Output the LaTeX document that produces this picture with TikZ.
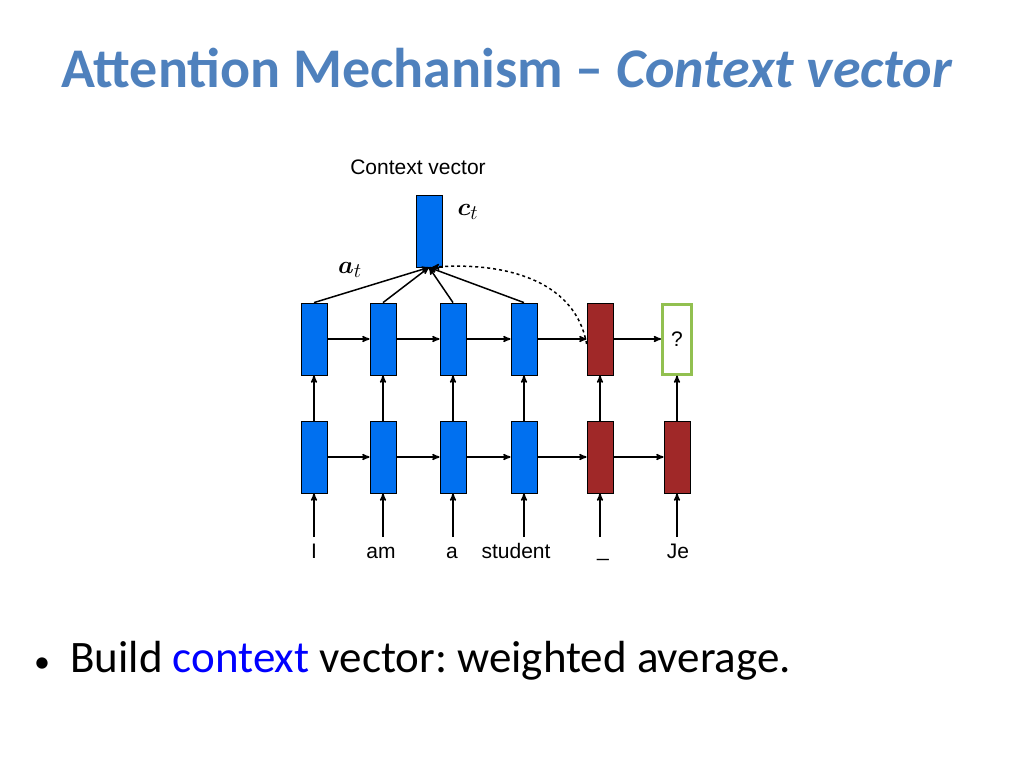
\documentclass[tikz,border=0pt]{standalone}
\usepackage{fontspec}
\usepackage{amsmath}
\usepackage{bm}
\setmainfont{Carlito}
\newfontfamily\helv{Liberation Sans}
\usetikzlibrary{arrows,positioning}
\definecolor{titleblue}{RGB}{79,129,189}
\definecolor{cellblue}{RGB}{0,112,240}
\definecolor{cellred}{RGB}{160,40,40}
\definecolor{qgreen}{RGB}{146,192,80}
\frenchspacing
\begin{document}
\begin{tikzpicture}[x=1pt,y=-1pt,->,>=stealth',line width=1.5pt]
  \tikzstyle{cell}=[draw=black,line width=0.8pt,fill=cellblue,minimum width=26pt,minimum height=72pt,inner sep=0pt]
  \tikzstyle{dec}=[cell,fill=cellred]
  \tikzstyle{word}=[font=\helv\fontsize{21}{24}\selectfont,anchor=base]
  \useasboundingbox (0,0) rectangle (1024,768);

  \node[text=titleblue,font=\bfseries\fontsize{56}{64}\selectfont] (title) at (507,68)
       {Attention Mechanism -- \textit{Context vector}};

  % encoder / decoder cells
  \node[cell] (h1) at (314,339) {};
  \node[cell] (h2) at (383,339) {};
  \node[cell] (h3) at (453,339) {};
  \node[cell] (h4) at (524,339) {};
  \node[dec]  (h5) at (600,339) {};
  \node[draw=qgreen,line width=3pt,fill=white,minimum width=29pt,minimum height=70pt,
        font=\helv\fontsize{21}{24}\selectfont] (h6) at (677,339) {?};

  \node[cell] (l1) at (314,457) {};
  \node[cell] (l2) at (383,457) {};
  \node[cell] (l3) at (453,457) {};
  \node[cell] (l4) at (524,457) {};
  \node[dec]  (l5) at (600,457) {};
  \node[dec]  (l6) at (677,457) {};

  \node[cell] (ctx) at (429,231) {};
  \node[word] (ctxlab) at (418,174) {Context vector};
  \node (ct) at (468,212) {\fontsize{30}{34}\selectfont$\bm{c}_t$};
  \node (at) at (350,270) {\fontsize{30}{34}\selectfont$\bm{a}_t$};

  % words
  \node[word] (w1) at (314,558) {I};
  \node[word] (w2) at (381,558) {am};
  \node[word] (w3) at (452,558) {a};
  \node[word] (w4) at (516,558) {student};
  \node[word] (w5) at (603,556) {\_};
  \node[word] (w6) at (678,558) {Je};
  \foreach \i/\x in {1/314,2/383,3/453,4/524,5/600,6/677}
    \coordinate (i\i) at (\x,537);

  \path (i1) edge (l1) (i2) edge (l2) (i3) edge (l3)
        (i4) edge (l4) (i5) edge (l5) (i6) edge (l6)
        (l1) edge (h1) (l2) edge (h2) (l3) edge (h3)
        (l4) edge (h4) (l5) edge (h5) (l6) edge (h6)
        (l1) edge (l2) (l2) edge (l3) (l3) edge (l4)
        (l4) edge (l5) (l5) edge (l6)
        (h1) edge (h2) (h2) edge (h3) (h3) edge (h4)
        (h4) edge (h5) (h5) edge (h6)
        (h1.north) edge (ctx.south) (h2.north) edge (ctx.south)
        (h3.north) edge (ctx.south) (h4.north) edge (ctx.south);
  \draw[dashed] ([yshift=-5pt]h5.west) to[out=100,in=5] ([xshift=3pt]ctx.south);

  \node[anchor=base west,font=\fontsize{45}{52}\selectfont] (bullet) at (30,672)
       {{\fontsize{32}{36}\selectfont\textbullet}\ \ Build \textcolor{blue}{context} vector: weighted average.};
\end{tikzpicture}
\end{document}
